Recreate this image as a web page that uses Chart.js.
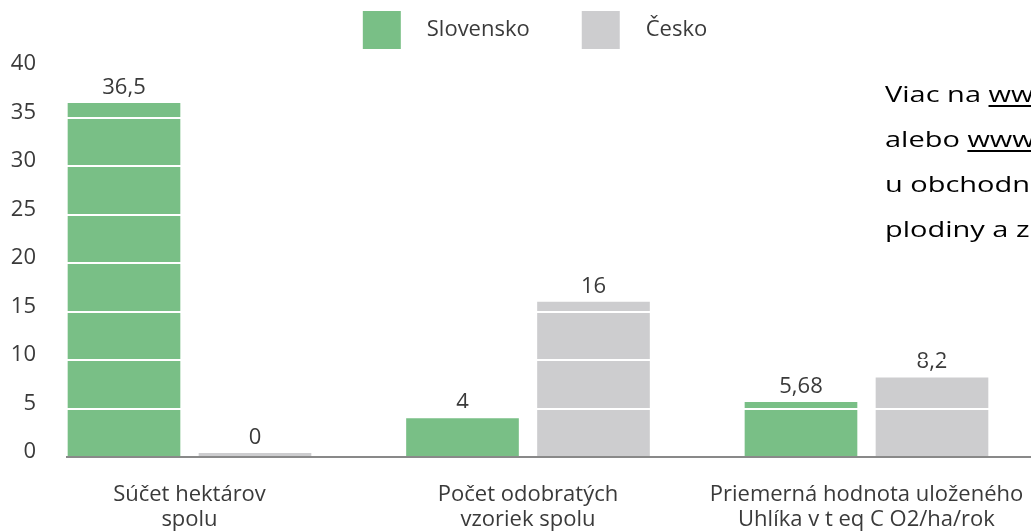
<!DOCTYPE html>
<html>
<head>
<meta charset="utf-8">
<script src="https://cdn.jsdelivr.net/npm/chart.js@4/dist/chart.umd.min.js"></script>
<style>
  html, body { margin: 0; padding: 0; background: #fff; overflow: hidden; }
  #wrap { position: relative; width: 1031px; height: 532px; overflow: hidden; }
  #note {
    position: absolute; left: 885px; top: 72px;
    font-family: 'Open Sans', sans-serif; font-size: 21px; line-height: 45px;
    color: #000; white-space: nowrap;
    transform: scaleX(1.38); transform-origin: 0 0;
  }
  #note span { display: block; }
  #note u { text-decoration-thickness: 2px; text-underline-offset: 3px; }
</style>
</head>
<body>
<div id="wrap">
  <canvas id="chart" width="1031" height="532"></canvas>
  <div id="note">
    <span>Viac na <u>www</u></span>
    <span>alebo <u>www</u></span>
    <span>u obchodné</span>
    <span>plodiny a ze</span>
  </div>
</div>
<script>
// data
var categories = [
    ['Súčet hektárov', 'spolu'],
    ['Počet odobratých', 'vzoriek spolu'],
    ['Priemerná hodnota uloženého', 'Uhlíka v t eq C O2/ha/rok']
];
var slovensko = [36.5, 4, 5.68];
var cesko = [0, 16, 8.2];
var yTicks = [0, 5, 10, 15, 20, 25, 30, 35, 40];

var GREEN = '#79bf86';
var GREY = '#cdcdcf';
var TEXT = '#3a3a3a';

Chart.defaults.font.family = "'Open Sans', sans-serif";
Chart.defaults.font.size = 22;
Chart.defaults.color = TEXT;

// legend swatch: square on the right of a wider canvas so the gaps match
function swatch(color) {
    var c = document.createElement('canvas');
    c.width = 92; c.height = 38;
    var g = c.getContext('2d');
    g.fillStyle = color;
    g.fillRect(39, 0, 38, 38);
    return c;
}
var swatches = [swatch(GREEN), swatch(GREY)];

function points(values) {
    return values.map(function(v, i) { return {x: i, y: v}; });
}

var legendSpace = {
    id: 'legendSpace',
    beforeInit: function(chart) {
        var fit = chart.legend.fit;
        chart.legend.fit = function() {
            fit.bind(chart.legend)();
            this.height += 18;
        };
    }
};

var valueLabels = {
    id: 'valueLabels',
    afterDatasetsDraw: function(chart) {
        var ctx = chart.ctx;
        ctx.save();
        ctx.font = "22px 'Open Sans', sans-serif";
        ctx.fillStyle = TEXT;
        ctx.textAlign = 'center';
        ctx.textBaseline = 'alphabetic';
        chart.data.datasets.forEach(function(ds, di) {
            chart.getDatasetMeta(di).data.forEach(function(bar, i) {
                var txt = String(ds.data[i].y).replace('.', ',');
                ctx.fillText(txt, bar.x, bar.y - 9);
            });
        });
        ctx.restore();
    }
};

new Chart(document.getElementById('chart'), {
    type: 'bar',
    data: {
        datasets: [{
            label: 'Slovensko',
            data: points(slovensko),
            backgroundColor: GREEN
        }, {
            label: 'Česko',
            data: points(cesko),
            backgroundColor: GREY,
            minBarLength: 4
        }]
    },
    options: {
        responsive: false,
        animation: false,
        barPercentage: 0.86,
        categoryPercentage: 0.774,
        layout: { padding: { top: 6, left: 0, right: 0, bottom: 0 } },
        plugins: {
            tooltip: { enabled: false },
            legend: {
                position: 'top',
                labels: {
                    usePointStyle: true,
                    pointStyleWidth: 92,
                    padding: 13,
                    color: TEXT,
                    font: { size: 22 },
                    generateLabels: function(chart) {
                        var items = Chart.defaults.plugins.legend.labels.generateLabels(chart);
                        items.forEach(function(it, i) { it.pointStyle = swatches[i]; });
                        return items;
                    }
                }
            }
        },
        scales: {
            x: {
                type: 'linear',
                min: -0.3619,
                max: 2.486,
                offset: false,
                grid: { display: false, drawTicks: false, offset: false },
                border: { display: true, color: '#898989', width: 2 },
                afterFit: function(scale) {
                    scale.height = 75;
                    scale.paddingLeft = 0;
                    scale.paddingRight = 0;
                },
                ticks: {
                    stepSize: 1,
                    includeBounds: false,
                    autoSkip: false,
                    maxRotation: 0,
                    padding: 26,
                    font: { size: 22, lineHeight: 1.1 },
                    callback: function(v) { return categories[v] || ''; }
                }
            },
            y: {
                min: 0,
                max: 40,
                z: 1,
                border: { display: false },
                afterFit: function(scale) { scale.width = 67; },
                afterBuildTicks: function(scale) {
                    scale.ticks = yTicks.map(function(v) { return {value: v}; });
                },
                grid: {
                    z: 1,
                    drawTicks: false,
                    lineWidth: 2,
                    color: function(c) { return c.tick && c.tick.value === 0 ? 'rgba(0,0,0,0)' : '#ffffff'; }
                },
                ticks: {
                    padding: 31,
                    labelOffset: -5,
                    font: { size: 22 }
                }
            }
        }
    },
    plugins: [legendSpace, valueLabels]
});
</script>
</body>
</html>
